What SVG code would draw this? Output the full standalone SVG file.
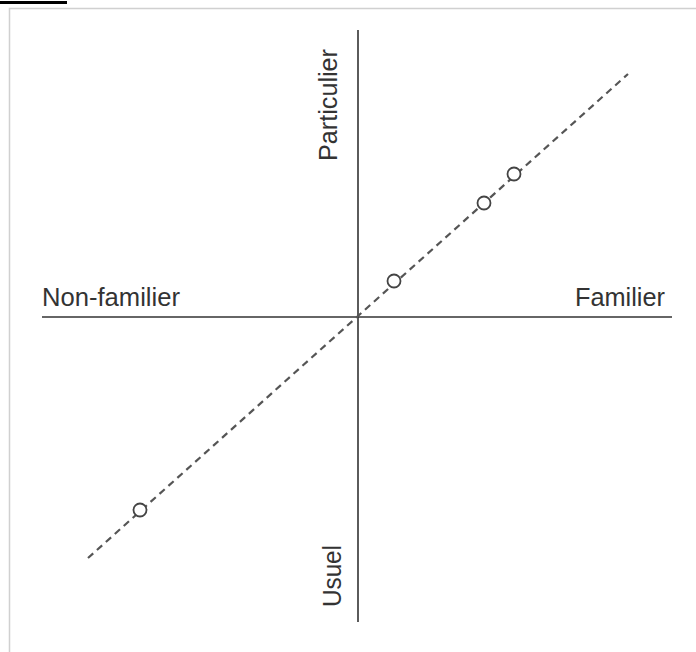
<svg xmlns="http://www.w3.org/2000/svg" width="696" height="652" viewBox="0 0 696 652">
<style>
.axis{stroke:#333;stroke-width:1.6;fill:none}
.diag{stroke:#555;stroke-width:2.2;stroke-dasharray:7 5;fill:none}
.pt{stroke:#444;stroke-width:1.8;fill:#fff}
.lbl{font-family:"Liberation Sans",Arial,sans-serif;font-size:25px;fill:#333}
.frame{stroke:#d0d0d0;stroke-width:1.5;fill:none}
</style>
<rect x="0" y="0" width="696" height="652" fill="#fff"/>
<rect x="0" y="1" width="67" height="3" fill="#000"/>
<path class="frame" d="M9.5,652 V8.5 H696"/>
<g id="connectors">
<line class="axis" x1="358" y1="30" x2="358" y2="622"/>
<line class="axis" x1="42" y1="317" x2="672" y2="317"/>
<line class="diag" x1="88" y1="558" x2="628" y2="74"/>
</g>
<g id="label-particulier"><text class="lbl" transform="translate(337,161) rotate(-90)" textLength="112" lengthAdjust="spacingAndGlyphs">Particulier</text></g>
<g id="label-usuel"><text class="lbl" transform="translate(341,607) rotate(-90)" textLength="62" lengthAdjust="spacingAndGlyphs">Usuel</text></g>
<g id="label-nonfamilier"><text class="lbl" x="42" y="306" textLength="138" lengthAdjust="spacingAndGlyphs">Non-familier</text></g>
<g id="label-familier"><text class="lbl" x="575" y="306" textLength="90" lengthAdjust="spacingAndGlyphs">Familier</text></g>
<g id="point-1"><circle class="pt" cx="140" cy="510" r="6.5"/></g>
<g id="point-2"><circle class="pt" cx="394" cy="281" r="6.5"/></g>
<g id="point-3"><circle class="pt" cx="484" cy="203" r="6.5"/></g>
<g id="point-4"><circle class="pt" cx="514" cy="174" r="6.5"/></g>
</svg>
